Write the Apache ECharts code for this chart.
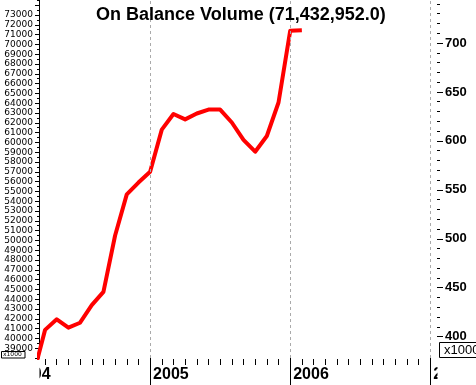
<!DOCTYPE html>
<html><head><meta charset="utf-8">
<script src="https://cdn.jsdelivr.net/npm/echarts@6/dist/echarts.min.js"></script>
<style>html,body{margin:0;padding:0;background:#fff}#c{width:476px;height:385px}</style>
</head><body><div id="c"></div>
<script>
// Data (OBV in thousands)
const months = ['2004-03','2004-04','2004-05','2004-06','2004-07','2004-08','2004-09','2004-10','2004-11','2004-12',
  '2005-01','2005-02','2005-03','2005-04','2005-05','2005-06','2005-07','2005-08','2005-09','2005-10','2005-11','2005-12',
  '2006-01','2006-02'];
const obv = [36300,40870,41950,41100,41600,43400,44750,50500,54700,55900,
  57000,61300,62900,62350,62950,63350,63350,62030,60250,59050,60650,64070,
  71380,71433];
const yearLabels = ['2004','2005','2006','2007'];
const leftLabels = []; for (let v = 39000; v <= 73000; v += 1000) leftLabels.push(v);
const leftTicks = []; for (let v = 38000; v <= 74000; v += 1000) leftTicks.push(v);
const leftMinor = []; for (let v = 38500; v <= 74500; v += 1000) leftMinor.push(v);
const rightLabels = [400,450,500,550,600,650,700];
const rightMinor = []; for (let v = 410; v <= 740; v += 10) rightMinor.push(v);
const titleText = 'On Balance Volume (71,432,952.0)';

function mIdx(s){const [y,m]=s.split('-').map(Number);return (y-2004)*12+(m-1);}
const seriesData = months.map((d,i)=>[mIdx(d), obv[i]]);
const monthTicks = []; for (let m = 3; m <= 35; m++) monthTicks.push(m);
const yearTicks = [12,24,36];

const XMIN = 2.48, XMAX = 36.15;
const chart = echarts.init(document.getElementById('c'));
const font = 'Liberation Sans, Arial, sans-serif';
chart.setOption({
  animation:false,
  title:{text:titleText,left:91,top:1,textStyle:{fontFamily:font,fontSize:18,fontWeight:'bold',color:'#000'}},
  grid:{left:39,right:44,top:0,bottom:27,containLabel:false},
  xAxis:[
    {type:'value',min:XMIN,max:XMAX,position:'bottom',offset:1,
     axisLine:{show:false},splitLine:{show:false},
     axisTick:{show:true,customValues:monthTicks,length:6,lineStyle:{color:'#000',width:1}},
     axisLabel:{show:false}},
    {type:'value',min:XMIN,max:XMAX,position:'bottom',offset:0,
     axisLine:{show:false},splitLine:{show:false},
     axisTick:{show:true,customValues:yearTicks,length:27,lineStyle:{color:'#000',width:1}},
     axisLabel:{show:true,customValues:yearTicks,formatter:v=>yearLabels[v/12],align:'left',verticalAlign:'top',
       padding:[0,0,0,3],margin:9,fontFamily:font,fontSize:16,fontWeight:'bold',color:'#000'}}
  ],
  yAxis:[
    {type:'value',min:38000,max:74530,position:'left',
     axisLine:{show:true,lineStyle:{color:'#000',width:1}},splitLine:{show:false},
     axisTick:{show:true,customValues:leftTicks,length:4,lineStyle:{color:'#000'}},
     axisLabel:{show:true,customValues:leftLabels,formatter:v=>String(v),margin:6,fontFamily:'DejaVu Sans',fontSize:9,color:'#000'}},
    {type:'value',min:378.2,max:743.9,position:'right',offset:5,
     axisLine:{show:false},splitLine:{show:false},
     axisTick:{show:true,customValues:rightLabels,length:6,lineStyle:{color:'#000'}},
     axisLabel:{show:true,customValues:rightLabels,formatter:v=>String(v),margin:8,fontFamily:font,fontSize:13,fontWeight:'bold',color:'#000'}},
    {type:'value',min:378.2,max:743.9,position:'right',offset:5,
     axisLine:{show:false},splitLine:{show:false},
     axisTick:{show:true,customValues:rightMinor,length:3,lineStyle:{color:'#000'}},
     axisLabel:{show:false}},
    {type:'value',min:38000,max:74530,position:'left',
     axisLine:{show:false},splitLine:{show:false},
     axisTick:{show:true,customValues:leftMinor,length:2,lineStyle:{color:'#000'}},
     axisLabel:{show:false}}
  ],
  series:[{
    type:'line',xAxisIndex:0,yAxisIndex:0,data:seriesData,showSymbol:false,symbol:'none',clip:true,
    lineStyle:{color:'#ff0000',width:4,join:'round'},
    markLine:{silent:true,symbol:['none','none'],label:{show:false},
      lineStyle:{color:'#aaaaaa',type:[3,3],width:1},
      data:yearTicks.map(v=>({xAxis:v}))}
  }]
});
const x2004 = chart.convertToPixel({xAxisIndex:1}, 0);
chart.setOption({graphic:[
  {type:'text',z:50,x:x2004+5,y:367,style:{text:yearLabels[0],font:'bold 16px '+font,fill:'#000'}},
  {type:'rect',z:60,shape:{x:0,y:361,width:39.5,height:24},style:{fill:'#fff'}},
  {type:'rect',z:60,shape:{x:437.5,y:361,width:40,height:24},style:{fill:'#fff'}},
  {type:'rect',z:70,shape:{x:1.5,y:351.5,width:23.5,height:6.5},style:{fill:'#fff',stroke:'#000',lineWidth:1}},
  {type:'text',z:71,x:3,y:351,style:{text:'x1000',font:'6px DejaVu Sans',fill:'#000'}},
  {type:'rect',z:70,shape:{x:439.5,y:342.5,width:45,height:15},style:{fill:'#fff',stroke:'#000',lineWidth:1}},
  {type:'text',z:71,x:444,y:343.5,style:{text:'x100000',font:'13px '+font,fill:'#000'}}
]});
</script></body></html>
